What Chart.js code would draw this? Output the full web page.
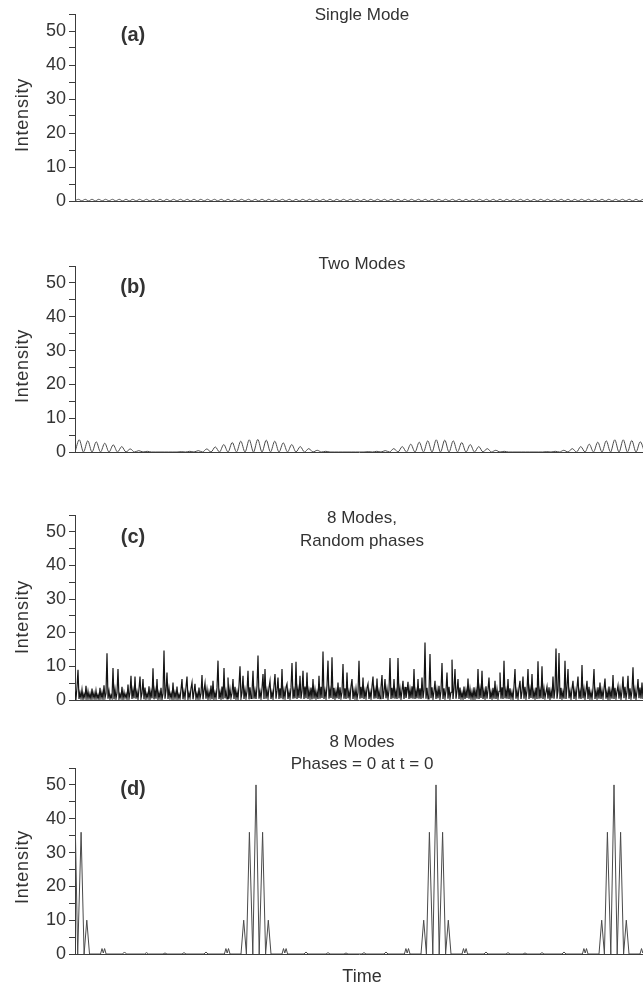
<!DOCTYPE html>
<html>
<head>
<meta charset="utf-8">
<script src="https://cdn.jsdelivr.net/npm/chart.js@4.4.1/dist/chart.umd.min.js"></script>
<style>
  html, body { margin: 0; padding: 0; background: #fff; }
  #fig { position: relative; width: 643px; height: 985px; overflow: hidden; font-family: "Liberation Sans", Arial, sans-serif; color: #333; }
  canvas { position: absolute; left: 0; }
  .txt { position: absolute; white-space: nowrap; line-height: 1; transform: translate(-50%, -50%); }
  .title { font-size: 17px; }
  .tag { font-size: 20px; font-weight: bold; }
  .ylab { font-size: 18px; letter-spacing: 0.8px; transform: translate(-50%, -50%) rotate(-90deg); }
</style>
</head>
<body>
<div id="fig">
  <canvas id="chartA" width="643" height="230" style="top:0px"></canvas>
  <canvas id="chartB" width="643" height="240" style="top:240px"></canvas>
  <canvas id="chartC" width="643" height="240" style="top:490px"></canvas>
  <canvas id="chartD" width="643" height="245" style="top:740px"></canvas>

  <div class="txt title" style="left:362px; top:14px">Single Mode</div>
  <div class="txt title" style="left:362px; top:263px">Two Modes</div>
  <div class="txt title" style="left:362px; top:517px">8 Modes,</div>
  <div class="txt title" style="left:362px; top:540px">Random phases</div>
  <div class="txt title" style="left:362px; top:741px">8 Modes</div>
  <div class="txt title" style="left:362px; top:763px">Phases = 0 at t = 0</div>
  <div class="txt title" style="left:362px; top:976px; font-size:18px">Time</div>

  <div class="txt tag" style="left:133px; top:34px">(a)</div>
  <div class="txt tag" style="left:133px; top:286px">(b)</div>
  <div class="txt tag" style="left:133px; top:536px">(c)</div>
  <div class="txt tag" style="left:133px; top:788px">(d)</div>

  <div class="txt ylab" style="left:22px; top:115px">Intensity</div>
  <div class="txt ylab" style="left:22px; top:366px">Intensity</div>
  <div class="txt ylab" style="left:22px; top:617px">Intensity</div>
  <div class="txt ylab" style="left:22px; top:867px">Intensity</div>
</div>

<script>
// time runs in arbitrary units; the visible window is 0..timeMax
const timeMax = 568;
const yMax = 55;
const yLabelTicks = [0, 10, 20, 30, 40, 50];
const yMinorTicks = [0, 5, 10, 15, 20, 25, 30, 35, 40, 45, 50, 55];

// (a) single mode - tiny ripple on the baseline, one sample every 3.4
const singleStep = 3.4;
const singleMode = [
  0.05,0.5,0.05,0.5,0.05,0.5,0.05,0.5,0.05,0.5,0.05,0.5,
  0.05,0.5,0.05,0.5,0.05,0.5,0.05,0.5,0.05,0.5,0.05,0.5,
  0.05,0.5,0.05,0.5,0.05,0.5,0.05,0.5,0.05,0.5,0.05,0.5,
  0.05,0.5,0.05,0.5,0.05,0.5,0.05,0.5,0.05,0.5,0.05,0.5,
  0.05,0.5,0.05,0.5,0.05,0.5,0.05,0.5,0.05,0.5,0.05,0.5,
  0.05,0.5,0.05,0.5,0.05,0.5,0.05,0.5,0.05,0.5,0.05,0.5,
  0.05,0.5,0.05,0.5,0.05,0.5,0.05,0.5,0.05,0.5,0.05,0.5,
  0.05,0.5,0.05,0.5,0.05,0.5,0.05,0.5,0.05,0.5,0.05,0.5,
  0.05,0.5,0.05,0.5,0.05,0.5,0.05,0.5,0.05,0.5,0.05,0.5,
  0.05,0.5,0.05,0.5,0.05,0.5,0.05,0.5,0.05,0.5,0.05,0.5,
  0.05,0.5,0.05,0.5,0.05,0.5,0.05,0.5,0.05,0.5,0.05,0.5,
  0.05,0.5,0.05,0.5,0.05,0.5,0.05,0.5,0.05,0.5,0.05,0.5,
  0.05,0.5,0.05,0.5,0.05,0.5,0.05,0.5,0.05,0.5,0.05,0.5,
  0.05,0.5,0.05,0.5,0.05,0.5,0.05,0.5,0.05,0.5,0.05,0.5
];

// (b) two modes - beating, one sample every 4.25
const twoStep = 4.25;
const twoModes = [
  0,3.6,0,3.3,0,3.0,0,2.6,0,2.1,0,1.6,0,0.9,0,0.4,0,0.2,0,0,
  0,0,0,0,0,0.1,0,0.2,0,0.4,0,0.9,0,1.5,0,2.2,0,2.8,0,3.2,
  0,3.6,0,3.7,0,3.5,0,3.2,0,2.7,0,2.2,0,1.6,0,1.0,0,0.5,0,0.2,
  0,0,0,0,0,0,0,0,0,0.1,0,0.2,0,0.4,0,1.0,0,1.6,0,2.3,
  0,2.9,0,3.3,0,3.6,0,3.5,0,3.3,0,2.8,0,2.2,0,1.6,0,1.0,0,0.5,
  0,0.2,0,0,0,0,0,0,0,0,0,0.1,0,0.2,0,0.5,0,1.0,0,1.6,
  0,2.3,0,2.9,0,3.3,0,3.6,0,3.6,0,3.4,0,3.0,0
];

// (c) 8 modes, random phases - one sample per time unit
const randomStep = 1;
const randomModes = [
  2.5,0.4,3.8,9.0,0.3,2.2,0.5,3.1,0.2,1.8,0.6,4.2,0.3,2.6,0.4,1.9,0.2,3.4,0.5,2.1,
  0.3,2.8,0.4,1.6,0.2,3.6,0.5,2.3,0.3,4.4,0.6,2.0,13.9,0.4,2.7,0.3,1.5,0.5,9.5,0.2,
  3.2,0.4,2.1,9.2,0.3,1.7,0.5,3.9,0.2,2.4,0.6,1.8,0.3,4.6,0.4,2.2,7.2,0.3,3.0,0.5,
  7.0,0.4,2.5,0.3,3.3,7.0,0.5,2.0,6.2,0.2,3.7,0.4,1.9,0.6,4.1,0.3,2.6,0.5,9.4,0.2,
  2.9,0.4,6.2,0.3,2.2,0.5,3.6,0.2,1.8,14.7,0.4,2.8,8.2,0.3,3.4,0.6,2.0,0.3,5.2,0.4,
  2.3,0.5,4.0,0.3,1.7,0.4,3.1,6.2,0.2,2.6,0.5,3.8,7.0,0.3,2.1,0.6,3.5,5.2,0.2,2.4,
  4.8,0.4,2.0,0.3,3.7,0.5,1.9,7.4,0.2,2.9,5.0,0.4,3.2,0.3,2.5,0.6,4.3,0.2,5.7,0.4,
  2.2,0.5,3.6,11.7,0.3,2.4,0.4,4.0,0.2,9.5,0.5,2.7,0.3,6.7,0.4,3.3,0.6,2.0,6.2,0.3,
  3.9,0.4,2.5,0.3,4.4,10.0,0.5,2.2,7.2,0.3,3.1,0.6,2.6,8.7,0.2,3.8,0.5,2.3,8.7,0.4,
  2.8,0.3,4.1,13.2,0.4,2.6,0.5,3.4,7.7,0.3,9.2,0.4,2.9,0.6,3.7,5.7,0.3,2.4,0.5,4.2,
  7.7,0.4,2.7,6.7,0.3,3.5,0.5,9.2,0.2,2.9,0.6,3.8,4.8,0.3,2.5,0.5,3.6,11.0,0.4,2.8,
  0.5,11.4,0.3,3.3,0.6,7.2,0.4,2.6,8.7,0.3,4.0,0.5,8.2,0.3,2.9,0.6,3.7,0.2,6.2,0.4,
  3.2,0.5,2.4,0.3,7.2,0.4,3.9,0.6,14.4,0.3,2.8,0.5,4.3,11.7,0.4,3.0,0.6,12.7,0.3,3.6,
  0.4,2.7,0.5,5.2,0.3,3.8,0.6,2.3,10.7,0.4,3.5,0.3,8.2,0.5,2.6,0.4,4.1,6.2,0.3,2.9,
  0.6,3.4,0.3,2.2,11.7,0.4,3.9,0.5,6.7,0.3,2.8,0.6,3.6,4.8,0.3,2.5,0.5,4.0,7.0,0.4,
  3.1,0.5,6.4,0.3,2.7,0.4,3.8,7.4,0.3,2.4,6.2,0.5,3.3,0.4,2.9,12.5,0.3,3.6,0.5,6.2,
  0.4,2.6,0.3,12.5,0.5,3.4,0.4,2.8,5.7,0.3,3.9,0.6,2.5,5.4,0.3,3.2,0.5,4.1,0.4,9.2,
  0.3,2.7,0.5,6.2,0.4,3.5,0.3,6.7,0.5,2.9,17.1,0.4,3.6,0.3,2.4,13.7,0.5,3.8,0.4,2.6,
  5.7,0.3,3.1,0.5,4.2,0.4,2.7,11.0,0.3,3.5,0.6,2.8,8.2,0.4,3.9,0.5,2.3,12.0,0.3,3.4,
  9.2,0.4,2.6,6.2,0.3,3.7,0.5,2.2,0.4,4.0,0.3,2.9,0.6,6.4,0.4,3.3,0.5,2.5,0.3,3.8,
  0.5,2.8,0.4,9.2,0.3,3.4,0.6,8.7,0.3,2.7,0.5,4.1,0.4,3.0,6.7,0.3,2.4,0.5,3.6,0.4,
  5.7,0.3,3.2,0.5,2.6,8.2,0.4,3.8,0.3,11.7,0.5,2.9,0.4,6.2,0.3,3.5,0.6,2.4,0.3,4.0,
  9.2,0.4,2.7,0.5,3.6,5.7,0.3,2.5,7.0,0.4,3.9,0.5,2.8,9.2,0.3,3.3,0.6,7.7,0.4,2.6,
  0.5,3.7,0.3,11.5,0.4,2.9,0.5,10.0,0.3,3.4,0.6,2.3,4.0,0.4,3.8,0.3,2.7,0.5,7.0,0.4,
  3.2,15.3,0.4,2.8,14.0,0.3,3.6,0.5,2.5,0.4,11.7,0.3,3.9,9.2,0.5,2.7,0.4,3.4,5.7,0.3,
  2.9,0.5,3.7,7.0,0.4,2.6,0.3,10.4,0.5,3.3,0.4,2.8,5.7,0.3,3.9,0.5,2.4,0.4,3.5,9.2,
  0.3,2.7,0.5,3.8,0.4,5.2,0.3,2.9,0.6,3.4,6.4,0.4,2.5,0.3,4.0,0.5,2.8,0.4,7.4,0.3,
  3.6,0.5,2.6,4.3,0.4,3.3,0.3,2.7,7.0,0.5,3.9,0.4,2.4,7.2,0.3,3.5,0.5,2.8,9.7,0.4,
  3.1,0.3,2.6,6.2,0.5,3.7,0.4,5.2,0.3
];

// (d) 8 modes, phases = 0 at t = 0 - pulse train read point by point
const lockedTimes = [
  -3.7, -0.5, 2.7, 6.1, 9.1, 11.8, 14.5, 25.5, 27, 28.3, 29.6, 31.1, 47.5, 49.5, 51.5, 69.5, 71.5, 73.5, 88, 90, 92,
  107, 109, 111, 129, 131, 133, 149.4, 150.9, 152.2, 153.5, 155, 166, 168.7, 171.4, 174.4, 177.8, 181,
  184.2, 187.6, 190.6, 193.3, 196, 207, 208.5, 209.8, 211.1, 212.6, 229, 231, 233, 251, 253, 255, 269, 271, 273,
  287, 289, 291, 309, 311, 313, 329.4, 330.9, 332.2, 333.5, 335, 346, 348.7, 351.4, 354.4, 357.8, 361,
  364.2, 367.6, 370.6, 373.3, 376, 387, 388.5, 389.8, 391.1, 392.6, 409, 411, 413, 431, 433, 435, 448, 450, 452,
  465, 467, 469, 487, 489, 491, 507.4, 508.9, 510.2, 511.5, 513, 524, 526.7, 529.4, 532.4, 535.8, 539,
  542.2, 545.6, 548.6, 551.3, 554, 565, 566.5, 567.8, 569.1, 570.6
];
const lockedModes = [
  0, 50, 0, 36, 0, 10, 0, 0, 1.6, 0.3, 1.6, 0, 0, 0.6, 0, 0, 0.4, 0, 0, 0.3, 0,
  0, 0.4, 0, 0, 0.6, 0, 0, 1.6, 0.3, 1.6, 0, 0, 10, 0, 36, 0, 50,
  0, 36, 0, 10, 0, 0, 1.6, 0.3, 1.6, 0, 0, 0.6, 0, 0, 0.4, 0, 0, 0.3, 0,
  0, 0.4, 0, 0, 0.6, 0, 0, 1.6, 0.3, 1.6, 0, 0, 10, 0, 36, 0, 50,
  0, 36, 0, 10, 0, 0, 1.6, 0.3, 1.6, 0, 0, 0.6, 0, 0, 0.4, 0, 0, 0.3, 0,
  0, 0.4, 0, 0, 0.6, 0, 0, 1.6, 0.3, 1.6, 0, 0, 10, 0, 36, 0, 50,
  0, 36, 0, 10, 0, 0, 1.6, 0.3, 1.6, 0
];

const axisColor = '#3c3c3c';

function evenPoints(values, step) {
  return values.map((v, i) => ({ x: i * step, y: v }));
}

function makePanel(id, points, lineColor, lineWidth, padTop, padBottom, tension) {
  const ctx = document.getElementById(id).getContext('2d');
  return new Chart(ctx, {
    type: 'line',
    data: {
      datasets: [{
        data: points,
        borderColor: lineColor,
        borderWidth: lineWidth,
        pointRadius: 0,
        fill: false,
        tension: tension,
        cubicInterpolationMode: tension ? 'monotone' : 'default',
      }],
    },
    options: {
      responsive: false,
      animation: false,
      devicePixelRatio: 1,
      events: [],
      layout: { padding: { top: padTop, bottom: padBottom, left: 0, right: 0 } },
      plugins: {
        legend: { display: false },
        tooltip: { enabled: false },
      },
      scales: {
        x: {
          type: 'linear',
          min: 0,
          max: timeMax,
          ticks: { display: false },
          grid: { display: false },
          border: { display: true, color: axisColor, width: 1 },
          afterFit: (scale) => { scale.height = 0; },
        },
        y: {
          min: 0,
          max: yMax,
          afterBuildTicks: (scale) => { scale.ticks = yMinorTicks.map(v => ({ value: v })); },
          ticks: {
            autoSkip: false,
            padding: 3,
            color: '#333',
            font: { family: 'Liberation Sans', size: 18 },
            callback: (v) => yLabelTicks.includes(v) ? String(v) : '',
          },
          grid: { drawOnChartArea: false, tickLength: 6, color: axisColor },
          border: { color: axisColor, width: 1 },
          afterFit: (scale) => { scale.width = 75; },
        },
      },
    },
  });
}

makePanel('chartA', evenPoints(singleMode, singleStep), '#555', 1, 14, 29, 0.3);
makePanel('chartB', evenPoints(twoModes, twoStep), '#4a4a4a', 1, 26, 28, 0.15);
makePanel('chartC', evenPoints(randomModes, randomStep), '#141414', 1.2, 25, 30, 0);
makePanel('chartD', lockedTimes.map((t, i) => ({ x: t, y: lockedModes[i] })), '#4a4a4a', 1, 28, 31, 0);
</script>
</body>
</html>
